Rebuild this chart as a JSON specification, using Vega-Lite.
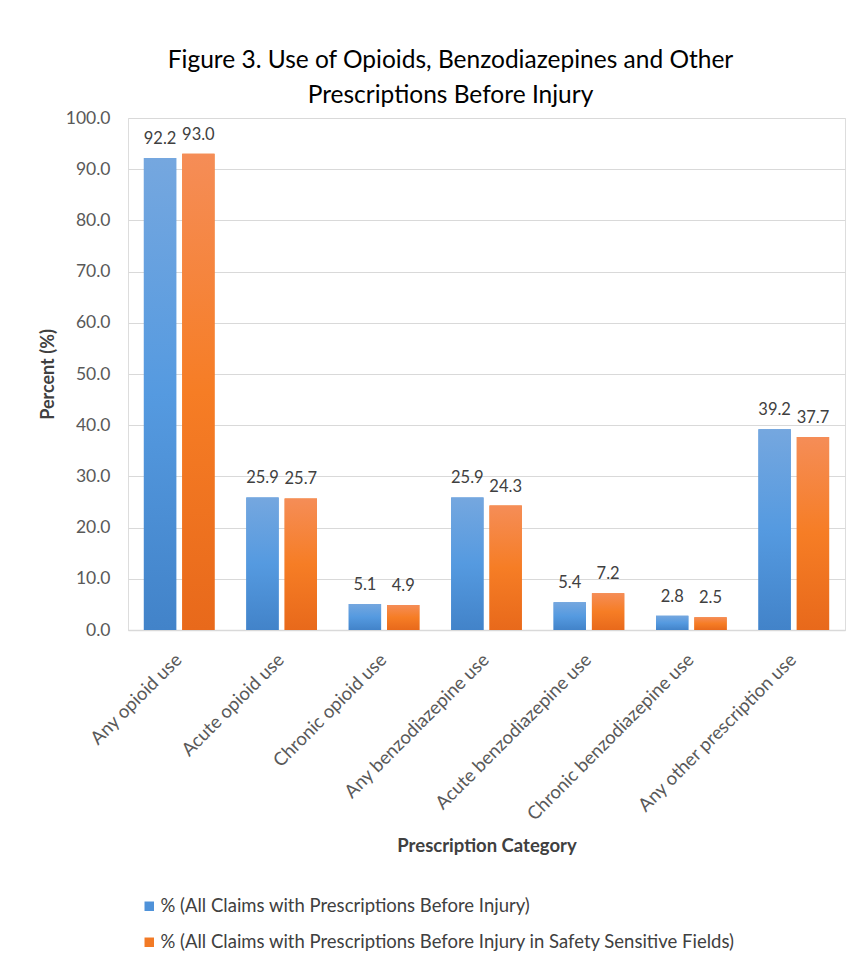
{
  "$schema": "https://vega.github.io/schema/vega-lite/v6.json",
  "width": 717,
  "height": 512,
  "autosize": "none",
  "padding": {"left": 128, "top": 118, "right": 14, "bottom": 334},
  "background": "white",
  "title": {
    "text": ["Figure 3. Use of Opioids, Benzodiazepines and Other", "Prescriptions Before Injury"],
    "font": "Lato",
    "fontSize": 24.5,
    "fontWeight": "normal",
    "color": "#000000",
    "anchor": "middle",
    "lineHeight": 35,
    "offset": 1,
    "dx": -36
  },
  "data": {
    "values": [
      {"category": "Any opioid use", "series": "% (All Claims with Prescriptions Before Injury)", "value": 92.2},
      {"category": "Any opioid use", "series": "% (All Claims with Prescriptions Before Injury in Safety Sensitive Fields)", "value": 93.0},
      {"category": "Acute opioid use", "series": "% (All Claims with Prescriptions Before Injury)", "value": 25.9},
      {"category": "Acute opioid use", "series": "% (All Claims with Prescriptions Before Injury in Safety Sensitive Fields)", "value": 25.7},
      {"category": "Chronic opioid use", "series": "% (All Claims with Prescriptions Before Injury)", "value": 5.1},
      {"category": "Chronic opioid use", "series": "% (All Claims with Prescriptions Before Injury in Safety Sensitive Fields)", "value": 4.9},
      {"category": "Any benzodiazepine use", "series": "% (All Claims with Prescriptions Before Injury)", "value": 25.9},
      {"category": "Any benzodiazepine use", "series": "% (All Claims with Prescriptions Before Injury in Safety Sensitive Fields)", "value": 24.3},
      {"category": "Acute benzodiazepine use", "series": "% (All Claims with Prescriptions Before Injury)", "value": 5.4},
      {"category": "Acute benzodiazepine use", "series": "% (All Claims with Prescriptions Before Injury in Safety Sensitive Fields)", "value": 7.2},
      {"category": "Chronic benzodiazepine use", "series": "% (All Claims with Prescriptions Before Injury)", "value": 2.8},
      {"category": "Chronic benzodiazepine use", "series": "% (All Claims with Prescriptions Before Injury in Safety Sensitive Fields)", "value": 2.5},
      {"category": "Any other prescription use", "series": "% (All Claims with Prescriptions Before Injury)", "value": 39.2},
      {"category": "Any other prescription use", "series": "% (All Claims with Prescriptions Before Injury in Safety Sensitive Fields)", "value": 37.7}
    ]
  },
  "encoding": {
    "x": {
      "field": "category",
      "type": "nominal",
      "sort": null,
      "scale": {"paddingInner": 0.31, "paddingOuter": 0.155},
      "axis": {
        "title": "Prescription Category",
        "titleFont": "Lato",
        "titleFontSize": 18.5,
        "titleFontWeight": "bold",
        "titleColor": "#404040",
        "titlePadding": 13,
        "labelAngle": -45,
        "labelFont": "Lato",
        "labelFontSize": 18.5,
        "labelColor": "#595959",
        "labelPadding": 20,
        "labelOffset": -7,
        "labelLimit": 400,
        "ticks": false,
        "domainColor": "#d9d9d9",
        "domainWidth": 1.5
      }
    },
    "xOffset": {
      "field": "series",
      "type": "nominal",
      "sort": ["% (All Claims with Prescriptions Before Injury)", "% (All Claims with Prescriptions Before Injury in Safety Sensitive Fields)"],
      "scale": {"paddingInner": 0.156}
    },
    "y": {
      "field": "value",
      "type": "quantitative",
      "scale": {"domain": [0, 100], "nice": false},
      "axis": {
        "title": "Percent (%)",
        "titleFont": "Lato",
        "titleFontSize": 18,
        "titleFontWeight": "bold",
        "titleColor": "#404040",
        "titlePadding": 8,
        "values": [0, 10, 20, 30, 40, 50, 60, 70, 80, 90, 100],
        "format": ".1f",
        "labelFont": "Lato",
        "labelFontSize": 17.5,
        "labelColor": "#595959",
        "labelPadding": 18,
        "ticks": false,
        "domain": false,
        "gridColor": "#d9d9d9",
        "gridWidth": 1.2
      }
    }
  },
  "layer": [
    {
      "mark": {"type": "bar"},
      "encoding": {
        "color": {
          "field": "series",
          "type": "nominal",
          "sort": ["% (All Claims with Prescriptions Before Injury)", "% (All Claims with Prescriptions Before Injury in Safety Sensitive Fields)"],
          "scale": {"range": ["#4f92d9", "#f27a26"]},
          "legend": {
            "title": null,
            "orient": "none",
            "legendX": 12,
            "legendY": 779,
            "direction": "vertical",
            "symbolType": "square",
            "symbolSize": 90,
            "symbolStrokeWidth": 0,
            "rowPadding": 17,
            "labelFont": "Lato",
            "labelFontSize": 18.5,
            "labelColor": "#404040",
            "labelLimit": 800,
            "labelOffset": 2
          }
        }
      }
    },
    {
      "mark": {"type": "bar"},
      "encoding": {
        "fill": {
          "condition": {
            "test": "datum.series === '% (All Claims with Prescriptions Before Injury)'",
            "value": {
              "gradient": "linear", "x1": 0, "y1": 0, "x2": 0, "y2": 1,
              "stops": [
                {"offset": 0, "color": "#75a7df"},
                {"offset": 0.5, "color": "#559ae0"},
                {"offset": 1, "color": "#4283c9"}
              ]
            }
          },
          "value": {
            "gradient": "linear", "x1": 0, "y1": 0, "x2": 0, "y2": 1,
            "stops": [
              {"offset": 0, "color": "#f58d57"},
              {"offset": 0.5, "color": "#f67d25"},
              {"offset": 1, "color": "#e8691b"}
            ]
          }
        }
      }
    },
    {
      "mark": {"type": "text", "dy": -19, "font": "Lato", "fontSize": 16.5, "color": "#404040"},
      "encoding": {
        "text": {"field": "value", "type": "quantitative", "format": ".1f"}
      }
    }
  ]
}
